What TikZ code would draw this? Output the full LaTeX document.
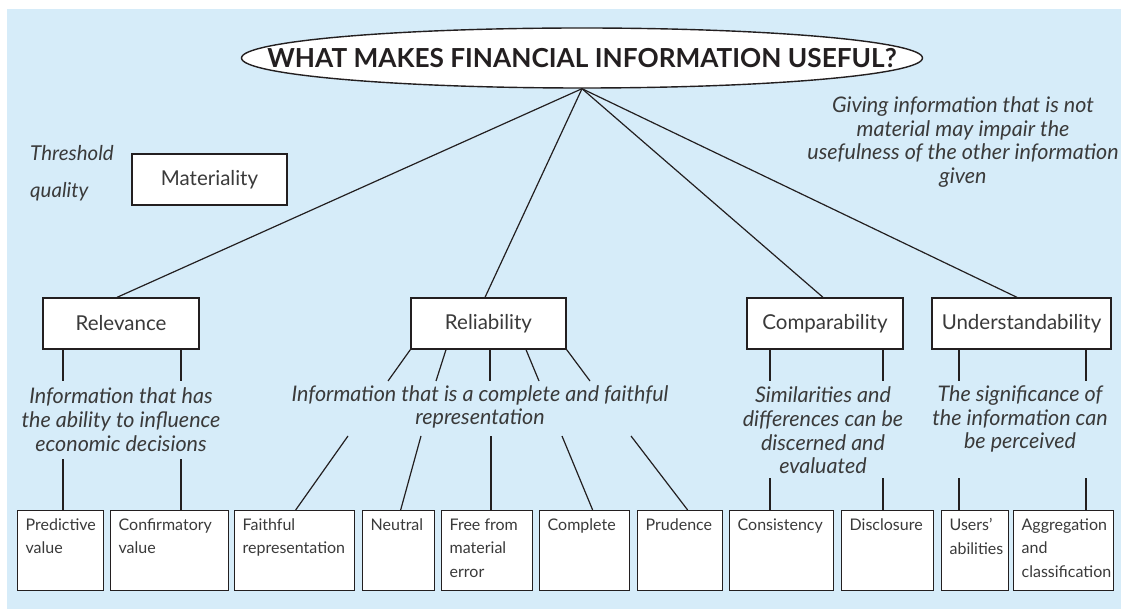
\documentclass[tikz,border=0pt]{standalone}
\usepackage{fontspec}
\setmainfont{Lato}
\usetikzlibrary{shapes.geometric}
\definecolor{bg}{RGB}{214,236,249}
\definecolor{ink}{RGB}{58,58,58}
\definecolor{lin}{RGB}{35,31,32}
\newcommand\leafbox[2]{\parbox[t][64pt][t]{#1pt}{\raggedright #2}}
\begin{document}
\begin{tikzpicture}[x=1pt,y=-1pt,
  box/.style={draw=lin, line width=1.3pt, fill=white, inner sep=0, minimum height=51, font=\fontsize{20.5}{24}\selectfont, text=ink},
  leaf/.style={draw=lin, line width=1.3pt, fill=white, anchor=north west, inner xsep=8, inner ysep=8, font=\fontsize{16}{23.5}\selectfont, text=ink},
  note/.style={font=\fontsize{21.5}{23.7}\selectfont\itshape, text=ink, align=center, inner sep=0},
  conn/.style={draw=lin, line width=1.2pt}]
\useasboundingbox (0,0) rectangle (1121,609);
\fill[bg] (7,9) rectangle (1121,609);

% title
\node[ellipse, draw=lin, line width=1.4pt, fill=white, minimum width=681, minimum height=60, inner sep=0, text=lin,
  font=\fontsize{26.2}{30}\selectfont\bfseries] (title) at (582,58)
  {\makebox[0pt]{\raisebox{-1.5pt}{WHAT MAKES FINANCIAL INFORMATION USEFUL?}}};

% notes
\node[note, align=left, anchor=west, font=\fontsize{20.5}{36.5}\selectfont\itshape] (thr) at (30,173) {Threshold\\quality};
\node[note] (give) at (963,142) {Giving information that is not\\material may impair the\\usefulness of the other information\\given};

% first level boxes
\node[box, minimum width=155] (mat) at (209.5,179.5) {Materiality};
\node[box, minimum width=156] (rel) at (121,323.5) {Relevance};
\node[box, minimum width=155] (rl) at (488.5,323.5) {Reliability};
\node[box, minimum width=156] (cmp) at (825,323.5) {Comparability};
\node[box, minimum width=179] (und) at (1021.5,323.5) {Understandability};

% descriptions
\node[note] (reln) at (121,419.5) {Information that has\\the ability to influence\\economic decisions};
\node[note] (rln) at (480,407) {Information that is a complete and faithful\\representation};
\node[note] (cmpn) at (823,430.5) {Similarities and\\differences can be\\discerned and\\evaluated};
\node[note] (undn) at (1020,419) {The significance of\\the information can\\be perceived};

% leaves
\node[leaf] (pred) at (17,510) {\leafbox{70}{Predictive\\value}};
\node[leaf] (conf) at (110,510) {\leafbox{102}{Confirmatory\\value}};
\node[leaf] (faith) at (234,510) {\leafbox{104}{Faithful\\representation}};
\node[leaf] (neut) at (362,510) {\leafbox{56}{Neutral}};
\node[leaf] (free) at (441,510) {\leafbox{75}{Free from\\material\\error}};
\node[leaf] (comp) at (539,510) {\leafbox{74}{Complete}};
\node[leaf] (prud) at (637,510) {\leafbox{69}{Prudence}};
\node[leaf] (cons) at (729,510) {\leafbox{88}{Consistency}};
\node[leaf] (disc) at (841,510) {\leafbox{76}{Disclosure}};
\node[leaf] (user) at (941,510) {\leafbox{51}{Users'\\abilities}};
\node[leaf] (aggr) at (1013,510) {\leafbox{84}{Aggregation\\and\\classification}};

% connectors from the title
\draw[conn] (title.south) -- ([xshift=-4]rel.north);
\draw[conn] (title.south) -- ([xshift=-3.5]rl.north);
\draw[conn] (title.south) -- ([xshift=-2]cmp.north);
\draw[conn] (title.south) -- ([xshift=-4.5]und.north);

% relevance
\coordinate (a1) at (63,381); \coordinate (a2) at (181,381);
\coordinate (a3) at (63,459); \coordinate (a4) at (181,459);
\draw[conn] (a1 |- rel.south) -- (a1);
\draw[conn] (a2 |- rel.south) -- (a2);
\draw[conn] (a3) -- (a3 |- pred.north);
\draw[conn] (a4) -- (a4 |- conf.north);

% reliability
\coordinate (b1) at (388,381); \coordinate (b2) at (436,381);
\coordinate (b3) at (490,381); \coordinate (b4) at (539,381);
\coordinate (b5) at (590,381);
\draw[conn] (rl.south west) -- (b1);
\draw[conn] ([xshift=-42.5]rl.south) -- (b2);
\draw[conn] ([xshift=1.5]rl.south) -- (b3);
\draw[conn] ([xshift=37.5]rl.south) -- (b4);
\draw[conn] (rl.south east) -- (b5);
\coordinate (c1) at (348,436); \coordinate (c2) at (421,436);
\coordinate (c3) at (491,436); \coordinate (c4) at (562,436);
\coordinate (c5) at (631,436);
\draw[conn] (c1) -- ([xshift=1]faith.north);
\draw[conn] (c2) -- ([xshift=2]neut.north);
\draw[conn] (c3) -- (c3 |- free.north);
\draw[conn] (c4) -- ([xshift=8]comp.north);
\draw[conn] (c5) -- ([xshift=7.5]prud.north);

% comparability
\coordinate (d1) at (770,381); \coordinate (d2) at (883,381);
\coordinate (d3) at (770,478); \coordinate (d4) at (883,478);
\draw[conn] (d1 |- cmp.south) -- (d1);
\draw[conn] (d2 |- cmp.south) -- (d2);
\draw[conn] (d3) -- (d3 |- cons.north);
\draw[conn] (d4) -- (d4 |- disc.north);

% understandability
\coordinate (e1) at (959,381); \coordinate (e2) at (1086,381);
\coordinate (e3) at (959,478); \coordinate (e4) at (1086,478);
\draw[conn] (e1 |- und.south) -- (e1);
\draw[conn] (e2 |- und.south) -- (e2);
\draw[conn] (e3) -- (e3 |- user.north);
\draw[conn] (e4) -- (e4 |- aggr.north);
\end{tikzpicture}
\end{document}
